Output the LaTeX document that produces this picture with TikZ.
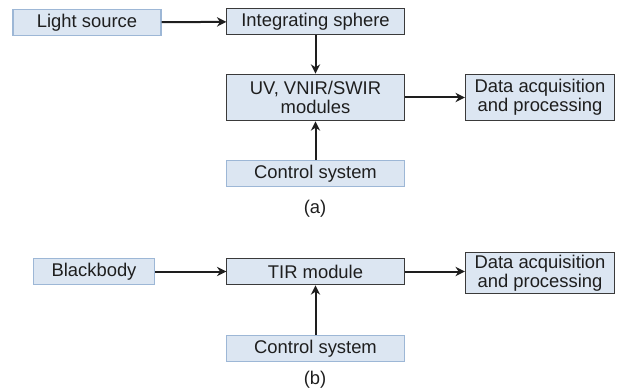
\documentclass[tikz,border=0pt]{standalone}
\usepackage{fontspec}
\setmainfont{Liberation Sans}
\usetikzlibrary{arrows.meta}
\definecolor{boxfill}{HTML}{DCE6F2}
\definecolor{paleedge}{HTML}{9DB7D6}
\definecolor{darkedge}{HTML}{3A3A3A}
\definecolor{ink}{HTML}{1E1E1E}
\tikzset{
  blk/.style={fill=boxfill, line width=0.8pt, inner sep=0pt, align=center,
              font=\fontsize{13.8}{14.6}\selectfont, text=ink},
  paleblk/.style={blk, draw=paleedge},
  darkblk/.style={blk, draw=darkedge},
  flow/.style={draw=ink, line width=1.5pt, -{Stealth[length=7pt,width=7pt]}},
  caption/.style={font=\fontsize{13.8}{14.6}\selectfont, text=ink}
}
\begin{document}
\begin{tikzpicture}[x=0.75pt,y=-0.75pt]
  \useasboundingbox (0,0) rectangle (624,392);
  % (a) UV / VNIR / SWIR chain
  \node[paleblk, minimum width=111pt, minimum height=20pt] (light) at (87,22.5) {Light source};
  \node[darkblk, minimum width=133pt, minimum height=20pt] (sphere) at (315.5,21.5) {Integrating sphere};
  \node[darkblk, minimum width=133pt, minimum height=35pt] (uv) at (315.5,97.5) {UV, VNIR/SWIR\\modules};
  \node[darkblk, minimum width=112pt, minimum height=35pt] (dataA) at (540,97.5) {Data acquisition\\and processing};
  \node[paleblk, minimum width=133pt, minimum height=20pt] (ctrlA) at (315.5,173.5) {Control system};
  \node[caption] (capA) at (315,209) {(a)};
  \draw[flow] (light) -- (sphere);
  \draw[flow] (sphere) -- (uv);
  \draw[flow] (uv) -- (dataA);
  \draw[flow] (ctrlA) -- (uv);
  % (b) TIR chain
  \node[paleblk, minimum width=91pt, minimum height=20pt] (bb) at (94,271.5) {Blackbody};
  \node[darkblk, minimum width=133pt, minimum height=20pt] (tir) at (315.5,271.5) {TIR module};
  \node[darkblk, minimum width=112pt, minimum height=31pt] (dataB) at (540,273) {Data acquisition\\and processing};
  \node[paleblk, minimum width=133pt, minimum height=20pt] (ctrlB) at (315.5,348.5) {Control system};
  \node[caption] (capB) at (315,380) {(b)};
  \draw[flow] (bb) -- (tir);
  \draw[flow] (tir.east) -- (tir.east -| dataB.west);
  \draw[flow] (ctrlB) -- (tir);
\end{tikzpicture}
\end{document}
